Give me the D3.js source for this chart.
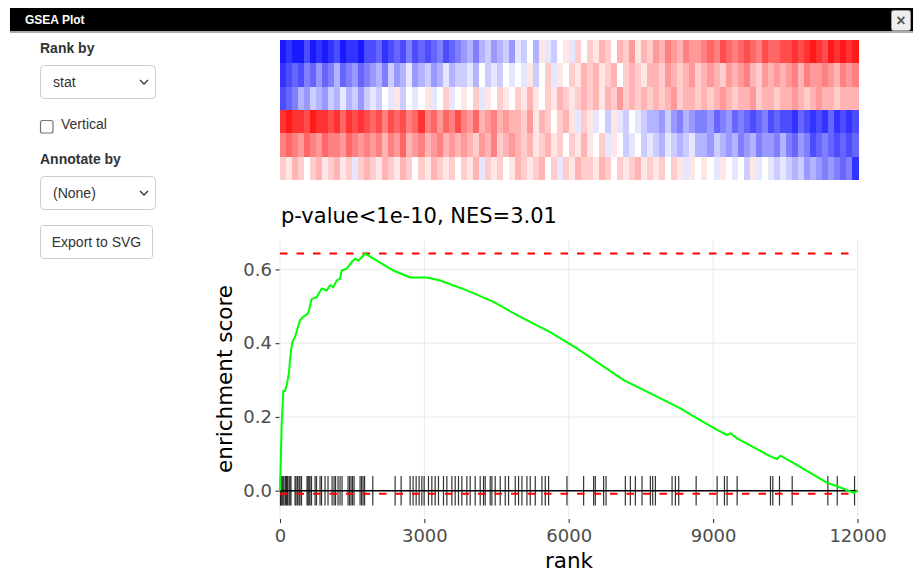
<!DOCTYPE html>
<html>
<head>
<meta charset="utf-8">
<script src="https://cdn.jsdelivr.net/npm/d3@7"></script>
<style>
  body { margin: 0; background: #fff; }
  svg { display: block; }
</style>
</head>
<body>
<svg id="chart" width="913" height="576"></svg>
<script>
// heatmap rows, intensity -9 (blue) .. 9 (red), left to right along the ranking
const heat_row1 = [-9,-8,-9,-9,-7,-9,-8,-9,-8,-7,-9,-8,-8,-9,-7, -7,-6,-8,-7,-6,-7,-5,-7,-6,-7,-6,-5,-7,-6,-5, -4,-3,-5,-3,-2,-4,-3,-2,-4, -1,-2,0,-3,1,-1,-2,0,1,-1,2,0, 2,1,3,2,0,3,2,4,1,3,2, 4,3,5,4,3,5,4,4, 5,6,5,7,6,5,6,7,6,5,7,6,6,7, 7,8,7,8,9,8,7,9,8,9,8,9]
const heat_row2 = [-8,-7,-6,-7,-5,-6,-4,-6,-5,-3,-6,-5,-4,-6,-5, -4,-3,-5,-2,-4,-3,-1,-4,-3,-2,-4,-3,-1,-3,-2, -2,-1,-3,0,-2,-1,-2,0,-1, 0,-1,1,-2,0,2,-1,1,0,2,1,3, 2,3,1,2,3,0,2,3,2,1,3, 3,2,4,3,2,3,4,2, 3,4,3,2,4,3,4,5,3,2,4,3,4,3, 4,5,3,5,4,4,5,4,3,5,4,5]
const heat_row3 = [-7,-6,-5,-3,-4,-2,-3,-4,-2,-3,-1,-3,-2,-4,-2, -1,-2,0,-1,1,-2,0,-1,0,1,-1,0,2,-1,0, 1,0,2,-1,1,0,2,1,0, 2,1,3,1,0,2,1,3,2,1,2,3, 2,3,1,3,2,4,2,3,2,3,2, 3,2,3,4,2,3,3,2, 3,2,3,4,3,2,3,3,4,2,3,3,2,3, 3,4,3,2,3,4,3,3,2,3,3,3]
const heat_row4 = [8,9,8,8,7,9,8,8,7,8,6,8,7,8,7, 6,7,5,7,6,7,5,6,8,5,6,4,6,5,7, 5,4,6,3,4,5,3,4,3, 3,2,4,1,3,2,0,2,3,1,-1,2, 1,-1,0,-2,1,-1,-2,0,-1,-2,-3, -3,-4,-2,-4,-5,-3,-4,-5, -5,-4,-6,-5,-4,-6,-5,-6,-7,-6,-5,-7,-6,-7, -7,-8,-6,-7,-8,-7,-8,-6,-8,-7,-8,-7]
const heat_row5 = [5,6,5,4,6,5,4,6,5,5,4,6,5,4,5, 4,5,3,5,4,6,3,4,5,3,4,5,3,4,3, 4,3,2,4,3,5,2,3,4, 3,2,3,1,2,3,1,2,0,2,1,3, 1,0,2,-1,1,0,-2,-1,0,-2,-1, -2,-3,-1,-2,-3,-2,-1,-3, -3,-4,-2,-3,-4,-3,-5,-4,-3,-5,-4,-4,-5,-3, -5,-6,-4,-5,-7,-6,-5,-6,-7,-6,-7,-6]
const heat_row6 = [2,1,3,2,0,2,3,1,2,3,1,2,-1,2,3, 2,1,3,2,1,3,2,0,2,1,3,2,1,2,0, 2,1,3,-1,2,1,2,0,1, 3,2,1,2,3,0,2,-1,2,1,3,2, 2,1,3,2,0,2,1,2,3,1,2, 1,2,0,2,1,-1,1,0, 1,0,-1,1,0,-1,0,-2,1,-1,0,-1,-2,-1, -2,-3,-2,-4,-3,-4,-5,-4,-5,-6,-5,-8]

// running enrichment score
const es_rank = [0, 10, 35, 69, 104, 146, 187, 208, 229, 256, 312, 416, 478, 582, 659, 763, 867, 971, 1040, 1108, 1179, 1248, 1283, 1387, 1491, 1560, 1628, 1699, 1768, 2011, 2356, 2704, 3051, 3328, 3883, 4436, 4991, 5615, 6170, 7140, 7834, 8319, 8666, 9082, 9290, 9359, 9498, 10191, 10330, 10399, 10675, 11370, 11578, 11923, 12000]
const es_value = [0, 0.05, 0.18, 0.27, 0.27, 0.29, 0.32, 0.355, 0.38, 0.403, 0.417, 0.462, 0.471, 0.48, 0.52, 0.525, 0.548, 0.543, 0.557, 0.552, 0.57, 0.575, 0.597, 0.602, 0.62, 0.629, 0.624, 0.633, 0.643, 0.624, 0.597, 0.578, 0.578, 0.57, 0.543, 0.512, 0.471, 0.43, 0.386, 0.30, 0.255, 0.223, 0.196, 0.165, 0.151, 0.156, 0.142, 0.093, 0.086, 0.095, 0.075, 0.021, 0.012, -0.006, 0]

// ranks of the gene set members (rug)
const hit_rank = [10, 21, 42, 62, 83, 114, 135, 156, 187, 208, 229, 312, 333, 364, 395, 416, 447, 562, 582, 603, 624, 655, 728, 759, 832, 863, 936, 998, 1082, 1123, 1154, 1206, 1248, 1290, 1414, 1446, 1477, 1508, 1539, 1664, 1695, 1726, 1758, 1928, 2392, 2517, 2704, 2766, 2829, 2891, 2947, 2995, 3085, 3155, 3224, 3293, 3397, 3467, 3571, 3640, 3709, 3779, 3883, 3952, 4056, 4160, 4229, 4264, 4368, 4403, 4472, 4576, 4680, 4749, 4888, 4957, 5027, 5131, 5200, 5304, 5443, 5512, 5581, 5963, 6309, 6517, 6552, 6725, 6775, 7176, 7280, 7384, 7523, 7696, 7744, 7800, 8147, 8216, 8285, 8647, 9083, 9235, 9291, 9499, 10192, 10240, 10379, 10643, 11384, 11579, 11939]

const es_max = 0.643
const es_min = -0.008
const x_ticks = [0, 3000, 6000, 9000, 12000]
const y_ticks = [0, 0.2, 0.4, 0.6]
const plot_title = "p-value<1e-10, NES=3.01"

const svg = d3.select("#chart")
const ui_font = "'Liberation Sans', Arial, sans-serif"
const plot_font = "'DejaVu Sans', sans-serif"

function draw_header() {
  let g = svg.append("g")
  g.append("rect").attr("x", 10).attr("y", 31).attr("width", 903).attr("height", 2).attr("fill", "#aaa")
  g.append("rect").attr("x", 10).attr("y", 8).attr("width", 903).attr("height", 23).attr("fill", "#000")
  g.append("text").attr("x", 25).attr("y", 23.5)
    .attr("font-family", ui_font).attr("font-size", 12).attr("font-weight", "bold")
    .attr("fill", "#fff").text("GSEA Plot")
  g.append("rect").attr("x", 891.5).attr("y", 10.5).attr("width", 19).attr("height", 20).attr("rx", 2)
    .attr("fill", "#eee").attr("stroke", "#999")
  g.append("text").attr("x", 901).attr("y", 25.5).attr("text-anchor", "middle")
    .attr("font-family", ui_font).attr("font-size", 16).attr("font-weight", "bold")
    .attr("fill", "#555").text("×")
}

function draw_controls() {
  let g = svg.append("g").attr("font-family", ui_font).attr("font-size", 14).attr("fill", "#333")
  let label = (y, t) => g.append("text").attr("x", 40).attr("y", y).attr("font-weight", "bold").text(t)
  let box = (y, w) => g.append("rect").attr("x", 40.5).attr("y", y + 0.5).attr("width", w).attr("height", 33)
    .attr("rx", 4).attr("fill", "#fff").attr("stroke", "#ccc")
  let chevron = y => g.append("path").attr("d", `M140,${y - 2} l4,4 l4,-4`)
    .attr("fill", "none").attr("stroke", "#333").attr("stroke-width", 1.3)

  label(53, "Rank by")
  box(65, 115)
  g.append("text").attr("x", 53).attr("y", 87).text("stat")
  chevron(82)

  g.append("rect").attr("x", 40.5).attr("y", 120.5).attr("width", 12.5).attr("height", 12.5).attr("rx", 2)
    .attr("fill", "#fff").attr("stroke", "#767676").attr("stroke-width", 1.2)
  g.append("text").attr("x", 61).attr("y", 129).text("Vertical")

  label(164, "Annotate by")
  box(176, 115)
  g.append("text").attr("x", 53).attr("y", 198).text("(None)")
  chevron(193)

  g.append("rect").attr("x", 40.5).attr("y", 225.5).attr("width", 112).attr("height", 33)
    .attr("rx", 3).attr("fill", "#fff").attr("stroke", "#ccc")
  g.append("text").attr("x", 96.5).attr("y", 247).attr("text-anchor", "middle").text("Export to SVG")
}

function draw_heatmap() {
  let rows = [heat_row1, heat_row2, heat_row3, heat_row4, heat_row5, heat_row6]
  let n = heat_row1.length
  let xb = d3.scaleBand().domain(d3.range(n)).range([280, 858])
  let yb = d3.scaleBand().domain(d3.range(rows.length)).range([40, 180])
  let color = d3.scaleLinear().domain([-10, 0, 10]).range(["#0000ff", "#ffffff", "#ff0000"])

  svg.append("g").attr("shape-rendering", "crispEdges")
    .selectAll("g").data(rows).join("g")
    .attr("transform", (d, i) => `translate(0,${yb(i)})`)
    .selectAll("rect").data(d => d).join("rect")
    .attr("x", (d, i) => xb(i))
    .attr("width", xb.bandwidth() + 0.6)
    .attr("height", yb.bandwidth() + 0.4)
    .attr("fill", d => color(d))
}

function draw_plot() {
  let x = d3.scaleLinear().domain([0, 12000]).range([280, 857.5])
  let y = d3.scaleLinear().domain([-0.074, 0.677]).range([518, 241])

  let grid = svg.append("g").attr("stroke", "#ebebeb").attr("stroke-width", 1.1)
  grid.selectAll(".v").data(x_ticks).join("line").attr("class", "v")
    .attr("x1", d => x(d)).attr("x2", d => x(d)).attr("y1", 241).attr("y2", 518)
  grid.selectAll(".h").data(y_ticks).join("line").attr("class", "h")
    .attr("x1", 280).attr("x2", 857.5).attr("y1", d => y(d)).attr("y2", d => y(d))

  let x_axis = d3.axisBottom(x).tickValues(x_ticks).tickFormat(d3.format("d")).tickSize(4).tickPadding(6)
  let gx = svg.append("g").attr("transform", "translate(0,519)").call(x_axis)
  let y_axis = d3.axisLeft(y).tickValues(y_ticks).tickFormat(d3.format(".1f")).tickSize(4).tickPadding(3.5)
  let gy = svg.append("g").attr("transform", "translate(279.5,0)").call(y_axis)
  for (let g of [gx, gy]) {
    g.select(".domain").remove()
    g.selectAll(".tick line").attr("stroke", "#333").attr("stroke-width", 1.1)
    g.selectAll(".tick text").attr("fill", "#4d4d4d").attr("font-family", plot_font).attr("font-size", 18)
  }

  // rug of gene set members
  svg.append("g").selectAll("line").data(hit_rank).join("line")
    .attr("x1", d => x(d)).attr("x2", d => x(d))
    .attr("y1", y(0.04)).attr("y2", y(-0.04))
    .attr("stroke", "#000").attr("stroke-opacity", 0.8).attr("stroke-width", 1.2)

  svg.append("line").attr("x1", x(0)).attr("x2", x(12000)).attr("y1", y(0)).attr("y2", y(0))
    .attr("stroke", "#000").attr("stroke-width", 1.6)

  svg.append("g").selectAll("line").data([es_max, es_min]).join("line")
    .attr("x1", x(0)).attr("x2", x(12000)).attr("y1", d => y(d)).attr("y2", d => y(d))
    .attr("stroke", "#ff0000").attr("stroke-width", 2).attr("stroke-dasharray", "7.5,9")

  let es = es_rank.map((r, i) => [r, es_value[i]])
  let line = d3.line().x(d => x(d[0])).y(d => y(d[1]))
  svg.append("path").datum(es).attr("d", line)
    .attr("fill", "none").attr("stroke", "#00ff00").attr("stroke-width", 2)

  svg.append("text").attr("x", 281).attr("y", 223)
    .attr("font-family", plot_font).attr("font-size", 21).attr("fill", "#000").text(plot_title)
  svg.append("text").attr("x", 569).attr("y", 568).attr("text-anchor", "middle")
    .attr("font-family", plot_font).attr("font-size", 21.5).attr("fill", "#000").text("rank")
  svg.append("text").attr("transform", "translate(232,379) rotate(-90)").attr("text-anchor", "middle")
    .attr("font-family", plot_font).attr("font-size", 21.5).attr("fill", "#000").text("enrichment score")
}

draw_header()
draw_controls()
draw_heatmap()
draw_plot()
</script>
</body>
</html>
